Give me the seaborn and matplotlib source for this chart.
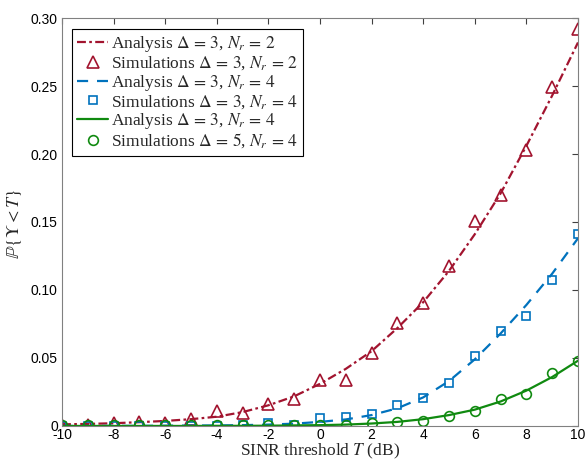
import numpy as np
import pandas as pd
import matplotlib
matplotlib.use("Agg")
import matplotlib.pyplot as plt
import seaborn as sns
from matplotlib.ticker import FixedLocator

T = list(range(-10, 11))

ana_d3_nr2 = [0.0012, 0.0015, 0.002, 0.0028, 0.0037, 0.005, 0.0068, 0.0102, 0.0152, 0.0218,
              0.031, 0.042, 0.055, 0.072, 0.091, 0.114, 0.141, 0.171, 0.206, 0.243, 0.282]
sim_d3_nr2 = [0.001, 0.001, 0.002, 0.003, 0.002, 0.005, 0.011, 0.0093, 0.016, 0.0196,
              0.0338, 0.0338, 0.0535, 0.0755, 0.0907, 0.118, 0.151, 0.170, 0.203, 0.249, 0.292]
ana_d3_nr4 = [0.0, 0.0, 0.0001, 0.0001, 0.0002, 0.0003, 0.0004, 0.0006, 0.001, 0.0017,
              0.003, 0.0048, 0.008, 0.013, 0.021, 0.033, 0.049, 0.068, 0.089, 0.112, 0.138]
sim_d3_nr4 = [0.0, 0.0, 0.0, 0.0001, 0.0, 0.0002, 0.0003, 0.0005, 0.002, 0.001,
              0.0057, 0.0064, 0.0086, 0.0152, 0.0208, 0.0314, 0.0515, 0.070, 0.081, 0.107, 0.141]
ana_d5_nr4 = [0.0, 0.0, 0.0, 0.0, 0.0, 0.0, 0.0001, 0.0001, 0.0002, 0.0004,
              0.0006, 0.001, 0.0018, 0.003, 0.005, 0.008, 0.012, 0.018, 0.026, 0.036, 0.048]
sim_d5_nr4 = [0.0007, 0.0005, 0.0005, 0.0005, 0.0005, 0.0005, 0.0007, 0.0007, 0.0007, 0.0007,
              0.0007, 0.0007, 0.0025, 0.0032, 0.0037, 0.0074, 0.011, 0.0196, 0.0235, 0.039, 0.0478]

labels = [r"Analysis $\Delta\,=\,3$, $N_r\,=\,2$", r"Simulations $\Delta\,=\,3$, $N_r\,=\,2$",
          r"Analysis $\Delta\,=\,3$, $N_r\,=\,4$", r"Simulations $\Delta\,=\,3$, $N_r\,=\,4$",
          r"Analysis $\Delta\,=\,3$, $N_r\,=\,4$", r"Simulations $\Delta\,=\,5$, $N_r\,=\,4$"]
xticks = [-10, -8, -6, -4, -2, 0, 2, 4, 6, 8, 10]
yticks = [0, 0.05, 0.10, 0.15, 0.20, 0.25, 0.30]
ytick_labels = ["0", "0.05", "0.10", "0.15", "0.20", "0.25", "0.30"]

RED, BLUE, GREEN = "#A2142F", "#0072BD", "#108A10"

sns.set_theme(style="white")
plt.rcParams["mathtext.fontset"] = "stix"
plt.rcParams["font.family"] = ["Liberation Sans", "DejaVu Sans"]

fig = plt.figure(figsize=(5.85, 4.62), dpi=100)
ax = fig.add_axes([0.106, 0.078, 0.882, 0.883])

df = pd.DataFrame({"T": T, "a1": ana_d3_nr2, "s1": sim_d3_nr2, "a2": ana_d3_nr4,
                   "s2": sim_d3_nr4, "a3": ana_d5_nr4, "s3": sim_d5_nr4})

sns.lineplot(data=df, x="T", y="a1", ax=ax, color=RED, linestyle=(0, (4, 1.5, 1.2, 1.5)), lw=1.6, label=labels[0])
sns.lineplot(data=df, x="T", y="s1", ax=ax, color=RED, linestyle="", marker="^",
             markersize=8.5, markerfacecolor="none", markeredgecolor=RED, markeredgewidth=1.2,
             label=labels[1])
sns.lineplot(data=df, x="T", y="a2", ax=ax, color=BLUE, linestyle=(0, (5, 4)), lw=1.6, label=labels[2])
sns.lineplot(data=df, x="T", y="s2", ax=ax, color=BLUE, linestyle="", marker="s",
             markersize=6, markerfacecolor="none", markeredgecolor=BLUE, markeredgewidth=1.2,
             label=labels[3])
sns.lineplot(data=df, x="T", y="a3", ax=ax, color=GREEN, linestyle="-", lw=1.6, label=labels[4])
sns.lineplot(data=df, x="T", y="s3", ax=ax, color=GREEN, linestyle="", marker="o",
             markersize=7, markerfacecolor="none", markeredgecolor=GREEN, markeredgewidth=1.2,
             label=labels[5])

ax.set_xlim(-10, 10)
ax.set_ylim(0, 0.30)
ax.xaxis.set_major_locator(FixedLocator(xticks))
ax.set_xticklabels([str(v) for v in xticks])
ax.yaxis.set_major_locator(FixedLocator(yticks))
ax.set_yticklabels(ytick_labels)
ax.tick_params(direction="in", length=4, width=0.8, top=True, right=True,
               labelsize=10, colors="#404040", labelcolor="black", pad=3)
ax.tick_params(axis="x", pad=1.5)
for s in ax.spines.values():
    s.set_color("#808080")
    s.set_linewidth(0.8)

ax.set_xlabel(r"SINR threshold $T$ (dB)", fontsize=12.5, family="Liberation Serif")
ax.xaxis.set_label_coords(0.5, -0.039)
ax.set_ylabel(r"$\mathbb{P}\{\Upsilon<T\}$", fontsize=13)
ax.yaxis.set_label_coords(-0.073, 0.495)

leg = ax.legend(loc="upper left", bbox_to_anchor=(0.019, 0.973), frameon=True, fancybox=False,
                edgecolor="black", framealpha=1, handlelength=1.8, handletextpad=0.15,
                borderpad=0.3, labelspacing=0.02, borderaxespad=0,
                prop={"family": "Liberation Serif", "size": 12.5})
leg.get_frame().set_linewidth(0.8)

fig.savefig("out.png", dpi=100)
